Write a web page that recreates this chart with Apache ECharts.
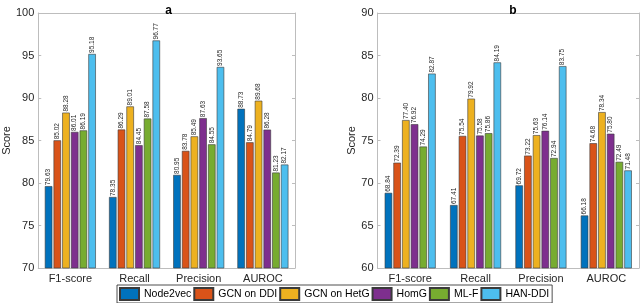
<!DOCTYPE html>
<html>
<head>
<meta charset="utf-8">
<script src="https://cdn.jsdelivr.net/npm/echarts@6/dist/echarts.min.js"></script>
<style>
html,body{margin:0;padding:0;background:#fff;}
#c{width:640px;height:303px;}
</style>
</head>
<body>
<div id="c"></div>
<script>
const categories = ['F1-score', 'Recall', 'Precision', 'AUROC'];
const methods = ['Node2vec', 'GCN on DDI', 'GCN on HetG', 'HomG', 'ML-F', 'HAN-DDI'];
const colors = ['#0072BD', '#D95319', '#EDB120', '#7E2F8E', '#77AC30', '#4DBEEE'];

// Panel a
const aNode2vec = [79.63, 78.35, 80.95, 88.73];
const aGcnDdi   = [85.02, 86.29, 83.78, 84.79];
const aGcnHetG  = [88.28, 89.01, 85.49, 89.68];
const aHomG     = [86.01, 84.45, 87.63, 86.28];
const aMlF      = [86.19, 87.58, 84.55, 81.23];
const aHanDdi   = [95.18, 96.77, 93.65, 82.17];

// Panel b
const bNode2vec = [68.84, 67.41, 69.72, 66.18];
const bGcnDdi   = [72.39, 75.54, 73.22, 74.68];
const bGcnHetG  = [77.40, 79.92, 75.63, 78.34];
const bHomG     = [76.92, 75.58, 76.14, 75.80];
const bMlF      = [74.29, 75.86, 72.94, 72.49];
const bHanDdi   = [82.87, 84.19, 83.75, 71.48];

const yTicksA = [70, 75, 80, 85, 90, 95, 100];
const yTicksB = [60, 65, 70, 75, 80, 85, 90];

const panelA = [aNode2vec, aGcnDdi, aGcnHetG, aHomG, aMlF, aHanDdi];
const panelB = [bNode2vec, bGcnDdi, bGcnHetG, bHomG, bMlF, bHanDdi];

const FONT = '"Liberation Sans", Arial, sans-serif';
const AX = '#bdbdbd';
const TXT = '#262626';

function xAxes(gi) {
  return [
    { type: 'category', gridIndex: gi, data: categories, position: 'bottom',
      axisLine: { lineStyle: { color: AX, width: 1 } },
      axisTick: { inside: true, alignWithLabel: true, length: 3, lineStyle: { color: AX } },
      axisLabel: { color: TXT, fontSize: 11, fontFamily: FONT, margin: 5 } },
    { type: 'category', gridIndex: gi, data: categories, position: 'top',
      axisLine: { lineStyle: { color: AX, width: 1 } },
      axisTick: { inside: true, alignWithLabel: true, length: 3, lineStyle: { color: AX } },
      axisLabel: { show: false } }
  ];
}
function yAxes(gi, ticks, gap) {
  const mn = ticks[0], mx = ticks[ticks.length - 1], iv = ticks[1] - ticks[0];
  return [
    { type: 'value', gridIndex: gi, min: mn, max: mx, interval: iv, position: 'left',
      name: 'Score', nameLocation: 'middle', nameGap: gap,
      nameTextStyle: { color: TXT, fontSize: 11, fontFamily: FONT },
      axisLine: { show: true, lineStyle: { color: AX, width: 1 } },
      axisTick: { show: true, inside: true, length: 3, lineStyle: { color: AX } },
      splitLine: { show: false },
      axisLabel: { color: TXT, fontSize: 11, fontFamily: FONT, margin: 4 } },
    { type: 'value', gridIndex: gi, min: mn, max: mx, interval: iv, position: 'right',
      axisLine: { show: true, lineStyle: { color: AX, width: 1 } },
      axisTick: { show: true, inside: true, length: 3, lineStyle: { color: AX } },
      splitLine: { show: false },
      axisLabel: { show: false } }
  ];
}

const series = [];
[panelA, panelB].forEach((panel, p) => {
  panel.forEach((vals, i) => {
    series.push({
      type: 'bar', name: methods[i], xAxisIndex: p * 2, yAxisIndex: p * 2,
      data: vals, barWidth: 7.5, barGap: '16%',
      itemStyle: { color: colors[i], borderColor: '#3a3a3a', borderWidth: 0.6 },
      label: { show: true, position: 'top', rotate: 90, align: 'left', verticalAlign: 'middle',
        distance: 1, fontSize: 6.5, fontFamily: FONT, color: TXT,
        formatter: (d) => d.value.toFixed(2) }
    });
  });
});

const chart = echarts.init(document.getElementById('c'), null, { renderer: 'canvas' });
chart.setOption({
  animation: false,
  backgroundColor: '#fff',
  title: [
    { text: 'a', left: 163.5, top: 0, textAlign: 'center',
      textStyle: { fontSize: 12, fontWeight: 'bold', color: '#000', fontFamily: FONT } },
    { text: 'b', left: 508, top: 0, textAlign: 'center',
      textStyle: { fontSize: 12, fontWeight: 'bold', color: '#000', fontFamily: FONT } }
  ],
  grid: [
    { left: 32, right: 345, top: 13, bottom: 35, show: false },
    { left: 377.5, right: 1, top: 13, bottom: 35, show: false }
  ],
  xAxis: [...xAxes(0), ...xAxes(1)],
  yAxis: [...yAxes(0, yTicksA, 20), ...yAxes(1, yTicksB, 17)],
  legend: {
    data: methods, left: 117, top: 285, orient: 'horizontal',
    itemWidth: 19, itemHeight: 12, itemGap: 2,
    borderColor: '#222', borderWidth: 0.8, padding: [2, 3, 2, 2],
    textStyle: { fontSize: 10.5, color: '#000', fontFamily: FONT },
    icon: 'rect'
  },
  series: series
});
</script>
</body>
</html>
